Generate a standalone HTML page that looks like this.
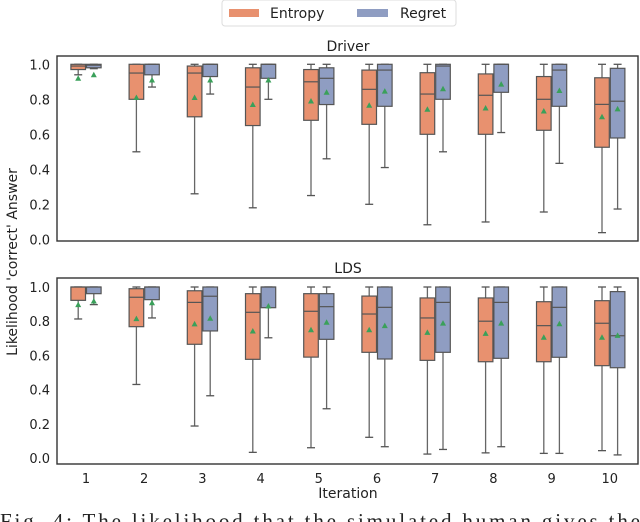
<!DOCTYPE html>
<html><head><meta charset="utf-8"><style>
body{margin:0;background:#fff;}
svg{display:block;font-family:"DejaVu Sans","Liberation Sans",sans-serif;}
</style></head><body>
<svg id="chart" width="640" height="522" viewBox="0 0 640 522">
<g>
<rect x="222" y="0" width="234" height="26" rx="3" fill="#fff" stroke="#ddd"/>
<rect x="229" y="9" width="30" height="8" fill="#e8916f"/>
<text x="270" y="18" font-size="14" fill="#222">Entropy</text>
<rect x="357" y="9" width="31" height="8" fill="#8f9dc2"/>
<text x="400" y="18" font-size="14" fill="#222">Regret</text>
</g>
<text x="348" y="51" font-size="14" text-anchor="middle" fill="#222">Driver</text>
<text x="348" y="273" font-size="14" text-anchor="middle" fill="#222">LDS</text>
<text transform="translate(17,262) rotate(-90)" font-size="14" text-anchor="middle" fill="#222">Likelihood 'correct' Answer</text>
<text x="348" y="498" font-size="14" text-anchor="middle" fill="#222">Iteration</text>
<text x="0" y="528" font-size="21" fill="#222" font-family="Liberation Serif,serif" textLength="640" lengthAdjust="spacing">Fig. 4:  The likelihood that the simulated human gives the</text>
<g id="plots"></g>
</svg>
<script>
const iterations=[1,2,3,4,5,6,7,8,9,10];
const yTicks=[0,0.2,0.4,0.6,0.8,1.0];
// Driver: [low, q1, median, q3, high]
const driverEntropyStats=[[0.94,0.97,0.99,1.0,1.0],[0.5,0.8,0.95,1.0,1.0],[0.26,0.7,0.95,0.99,1.0],[0.18,0.65,0.87,0.98,1.0],[0.25,0.68,0.9,0.97,1.0],[0.2,0.657,0.857,0.967,1.0],[0.083,0.6,0.83,0.952,1.0],[0.099,0.6,0.823,0.945,1.0],[0.156,0.623,0.8,0.93,1.0],[0.038,0.526,0.771,0.923,1.0]];
const driverEntropyMean=[0.92,0.81,0.81,0.77,0.79,0.766,0.743,0.75,0.733,0.7];
const driverRegretStats=[[0.975,0.98,0.995,1.0,1.0],[0.87,0.94,1.0,1.0,1.0],[0.83,0.93,1.0,1.0,1.0],[0.8,0.92,1.0,1.0,1.0],[0.46,0.77,0.92,0.98,1.0],[0.41,0.76,0.967,1.0,1.0],[0.5,0.8,0.99,1.0,1.0],[0.61,0.84,1.0,1.0,1.0],[0.434,0.76,0.967,1.0,1.0],[0.173,0.579,0.789,0.977,1.0]];
const driverRegretMean=[0.94,0.91,0.91,0.91,0.84,0.847,0.86,0.887,0.85,0.745];
// LDS
const ldsEntropyStats=[[0.813,0.922,1.0,1.0,1.0],[0.43,0.768,0.94,0.99,1.0],[0.187,0.665,0.91,0.978,1.0],[0.033,0.577,0.852,0.961,1.0],[0.06,0.59,0.858,0.961,1.0],[0.121,0.618,0.842,0.947,1.0],[0.023,0.571,0.819,0.936,1.0],[0.03,0.563,0.8,0.936,1.0],[0.027,0.563,0.774,0.914,1.0],[0.043,0.54,0.788,0.92,1.0]];
const ldsEntropyMean=[0.897,0.815,0.784,0.743,0.75,0.75,0.735,0.729,0.706,0.706];
const ldsRegretStats=[[0.897,0.961,1.0,1.0,1.0],[0.819,0.926,1.0,1.0,1.0],[0.364,0.743,0.946,1.0,1.0],[0.703,0.879,1.0,1.0,1.0],[0.288,0.694,0.885,0.961,1.0],[0.066,0.579,0.881,1.0,1.0],[0.05,0.618,0.91,1.0,1.0],[0.066,0.583,0.91,1.0,1.0],[0.027,0.589,0.881,1.0,1.0],[0.018,0.528,0.715,0.973,1.0]];
const ldsRegretMean=[0.918,0.908,0.817,0.889,0.794,0.774,0.789,0.789,0.785,0.717];

const NS="http://www.w3.org/2000/svg";
const root=document.getElementById('plots');
function mk(tag,attrs,parent){const e=document.createElementNS(NS,tag);for(const k in attrs)e.setAttribute(k,attrs[k]);(parent||root).appendChild(e);return e;}
const xScale=i=>86+58.2*(i-1);
function panel(name,top,bottom,y0,y1,eStats,eMean,rStats,rMean,showX){
  const y=v=>y0+(y1-y0)*v;
  const g=mk('g',{});
  
  
  const fr=mk('rect',{x:57,y:top,width:581,height:bottom-top,fill:'none',stroke:'#333','stroke-width':1.4},g);
  
  
  yTicks.forEach(t=>{
    const tx=mk('text',{x:50,y:y(t)+5,'font-size':13,'text-anchor':'end',fill:'#222'},g);
    tx.textContent=t.toFixed(1);
    
    
  });
  const series=[[eStats,eMean,'#e8916f',-7.8,'entropy'],[rStats,rMean,'#8f9dc2',7.8,'regret']];
  iterations.forEach((it,k)=>{
    series.forEach(([st,mn,col,off,sn])=>{
      const s=st[k];const cx=xScale(it)+off;const hw=7.3;
      const bg=mk('g',{},g);
      
      
      mk('line',{x1:cx,x2:cx,y1:y(s[0]),y2:y(s[1]),stroke:'#666','stroke-width':1.3},bg);
      mk('line',{x1:cx,x2:cx,y1:y(s[3]),y2:y(s[4]),stroke:'#666','stroke-width':1.3},bg);
      mk('line',{x1:cx-4,x2:cx+4,y1:y(s[0]),y2:y(s[0]),stroke:'#555','stroke-width':1.3},bg);
      mk('line',{x1:cx-4,x2:cx+4,y1:y(s[4]),y2:y(s[4]),stroke:'#555','stroke-width':1.3},bg);
      mk('rect',{x:cx-hw,y:y(s[3]),width:2*hw,height:Math.max(0.5,y(s[1])-y(s[3])),fill:col,stroke:'#555','stroke-width':1.2},bg);
      mk('line',{x1:cx-hw,x2:cx+hw,y1:y(s[2]),y2:y(s[2]),stroke:'#555','stroke-width':1.2},bg);
      const my=y(mn[k]);
      const m=mk('polygon',{points:`${cx},${my-3} ${cx-3},${my+2.5} ${cx+3},${my+2.5}`,fill:'#3aa05a'},g);
      
      
    });
    if(showX){
      const tl=mk('text',{x:xScale(it),y:bottom+19,'font-size':13,'text-anchor':'middle',fill:'#222'},g);
      tl.textContent=it;
      
      
    }
  });
}
panel('driver',56,241,239.3,64.3,driverEntropyStats,driverEntropyMean,driverRegretStats,driverRegretMean,false);
panel('lds',278,464,458,287,ldsEntropyStats,ldsEntropyMean,ldsRegretStats,ldsRegretMean,true);
</script>
</body></html>
